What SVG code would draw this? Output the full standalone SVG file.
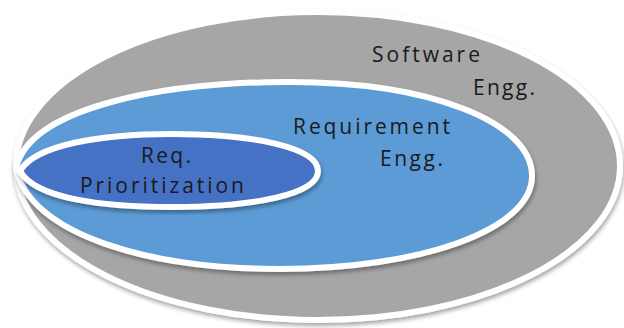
<svg xmlns="http://www.w3.org/2000/svg" width="624" height="328" viewBox="0 0 624 328">
  <defs>
    <filter id="sh" x="-5%" y="-5%" width="110%" height="115%">
      <feDropShadow dx="1" dy="3" stdDeviation="2" flood-color="#000" flood-opacity="0.35"/>
    </filter>
    <style>
      .ring { stroke: #ffffff; stroke-width: 6; filter: url(#sh); }
      .lbl { font-family: "Open Sans", "DejaVu Sans", sans-serif; font-size: 21px; fill: #1a1a1a; }
    </style>
  </defs>
  <rect width="624" height="328" fill="#ffffff"/>
  <g id="software-engg">
    <ellipse class="ring" cx="318" cy="166" rx="302" ry="154" fill="#a6a6a6"/>
    <text class="lbl" x="372" y="62" textLength="108" lengthAdjust="spacing">Software</text>
    <text class="lbl" x="473" y="95" textLength="62" lengthAdjust="spacing">Engg.</text>
  </g>
  <g id="requirement-engg">
    <path class="ring" d="M16,168 C30,108 160,82 290,82 C430,82 532,122 532,176 C532,230 420,269 280,269 C150,269 30,235 16,168 Z" fill="#5b9bd5"/>
    <text class="lbl" x="293" y="134" textLength="157" lengthAdjust="spacing">Requirement</text>
    <text class="lbl" x="380" y="166" textLength="63" lengthAdjust="spacing">Engg.</text>
  </g>
  <g id="req-prioritization">
    <path class="ring" d="M20,171 C35,145 100,134 172,134 C255,134 318,148 318,171 C318,194 255,207 172,207 C100,207 35,198 20,171 Z" fill="#4472c4"/>
    <text class="lbl" x="141" y="163" textLength="50" lengthAdjust="spacing">Req.</text>
    <text class="lbl" x="80" y="193" textLength="164" lengthAdjust="spacing">Prioritization</text>
  </g>
  <g id="connectors"/>
</svg>
